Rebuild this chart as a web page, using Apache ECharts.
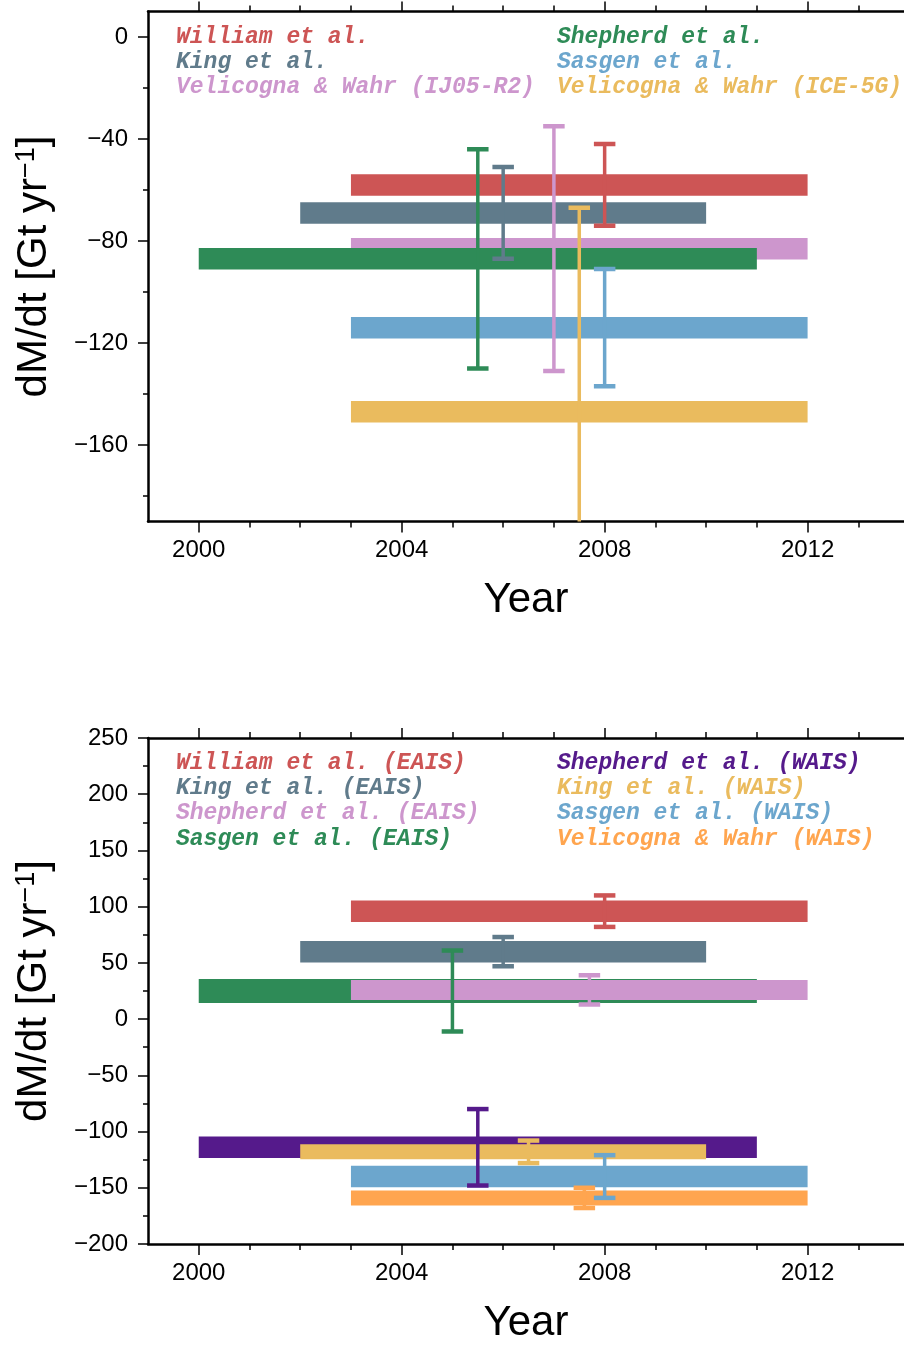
<!DOCTYPE html>
<html>
<head>
<meta charset="utf-8">
<script src="https://cdn.jsdelivr.net/npm/echarts@6/dist/echarts.min.js"></script>
<style>
  html, body { margin: 0; padding: 0; background: #fff; }
  #chart { width: 904px; height: 1345px; }
</style>
</head>
<body>
<div id="chart"></div>
<script>
// ---- Upper panel: whole ice-sheet mass-change estimates ----
const topNames = ['William et al.', 'King et al.', 'Velicogna & Wahr (IJ05-R2)',
                  'Shepherd et al.', 'Sasgen et al.', 'Velicogna & Wahr (ICE-5G)'];
const topStart = [2003, 2002, 2003, 2000, 2003, 2003];
const topEnd   = [2012, 2010, 2012, 2011, 2012, 2012];
const topRate  = [-58, -69, -83, -87, -114, -147];
const topErrYear = [2008, 2006, 2007, 2005.5, 2008, 2007.5];
const topErr   = [16, 18, 48, 43, 23, 80];

// ---- Lower panel: East / West Antarctic estimates ----
const bottomNames = ['William et al. (EAIS)', 'King et al. (EAIS)', 'Shepherd et al. (EAIS)', 'Sasgen et al. (EAIS)',
                     'Shepherd et al. (WAIS)', 'King et al. (WAIS)', 'Sasgen et al. (WAIS)', 'Velicogna & Wahr (WAIS)'];
const bottomStart = [2003, 2002, 2003, 2000, 2000, 2002, 2003, 2003];
const bottomEnd   = [2012, 2010, 2012, 2011, 2011, 2010, 2012, 2012];
const bottomRate  = [96, 60, 26, 25, -114, -118, -140, -159];
const bottomErrYear = [2008, 2006, 2007.7, 2005, 2005.5, 2006.5, 2008, 2007.6];
const bottomErr   = [14, 13, 13, 36, 34, 10, 19, 9];

// ---- Axis ticks ----
const yearTicks = [2000, 2004, 2008, 2012];
const yearMinorTicks = [2001, 2002, 2003, 2005, 2006, 2007, 2009, 2010, 2011, 2013];
const topRateTicks = [0, -40, -80, -120, -160];
const topRateMinorTicks = [-20, -60, -100, -140, -180];
const bottomRateTicks = [250, 200, 150, 100, 50, 0, -50, -100, -150, -200];
const bottomRateMinorTicks = [225, 175, 125, 75, 25, -25, -75, -125, -175];

// ---- Styling ----
const topColors = ['#CD5555', '#607B8B', '#CD96CD', '#2E8B57', '#6CA6CD', '#EABB5E'];
const bottomColors = ['#CD5555', '#607B8B', '#CD96CD', '#2E8B57', '#551A8B', '#EABB5E', '#6CA6CD', '#FFA54F'];
const topBarPx = [21.5, 21.5, 21.5, 21.5, 21.5, 21.5];
const bottomBarPx = [21.5, 21.5, 20, 24, 21.5, 15, 21.5, 15];
// Sasgen (EAIS) is painted beneath Shepherd (EAIS)
const bottomPaintOrder = [0, 1, 3, 2, 4, 5, 6, 7];

const SANS = '"Liberation Sans", Arial, Helvetica, sans-serif';
const MONO = '"Liberation Mono", "Courier New", monospace';
const minus = v => (v < 0 ? '\u2212' + Math.abs(v) : String(v));
const plain = v => String(v);

function barRenderer(colors, thickness) {
  return function (params, api) {
    const i = api.value(3);
    const a = api.coord([api.value(0), api.value(2)]);
    const b = api.coord([api.value(1), api.value(2)]);
    const h = thickness[i];
    return {
      type: 'rect',
      shape: { x: a[0], y: a[1] - h / 2, width: b[0] - a[0], height: h },
      style: { fill: colors[i] }
    };
  };
}

function errRenderer(colors) {
  return function (params, api) {
    const i = api.value(3);
    const yr = api.value(0), v = api.value(1), e = api.value(2);
    const top = api.coord([yr, v + e]);
    const bot = api.coord([yr, v - e]);
    const x = top[0];
    const capW = 21.5, capH = 4.5, lw = 3.5;
    const c = colors[i];
    return {
      type: 'group',
      children: [
        { type: 'rect', shape: { x: x - lw / 2, y: top[1], width: lw, height: bot[1] - top[1] }, style: { fill: c } },
        { type: 'rect', shape: { x: x - capW / 2, y: top[1] - capH / 2, width: capW, height: capH }, style: { fill: c } },
        { type: 'rect', shape: { x: x - capW / 2, y: bot[1] - capH / 2, width: capW, height: capH }, style: { fill: c } }
      ]
    };
  };
}

// The frame runs on to 2014, just past the right edge of the page
const YEAR_MIN = 1999, YEAR_MAX = 2013.9;

function xAxesFor(grid) {
  const tickStyle = { color: '#000', width: 1.5 };
  const hiddenLine = { show: false, onZero: false };
  const base = {
    type: 'value', gridIndex: grid, min: YEAR_MIN, max: YEAR_MAX,
    splitLine: { show: false }, axisLabel: { show: false }, axisLine: hiddenLine
  };
  const frameLine = { show: true, onZero: false, lineStyle: { color: '#000', width: 2.5 } };
  return [
    Object.assign({}, base, {
      position: 'bottom', axisLine: frameLine,
      axisTick: { show: true, customValues: yearTicks, length: 11, lineStyle: tickStyle },
      axisLabel: { show: true, customValues: yearTicks, formatter: plain, color: '#000', fontFamily: SANS, fontSize: 24, margin: 17 },
      name: 'Year', nameLocation: 'middle', nameGap: 58,
      nameTextStyle: { color: '#000', fontFamily: SANS, fontSize: 42 }
    }),
    Object.assign({}, base, {
      position: 'bottom',
      axisTick: { show: true, customValues: yearMinorTicks, length: 6, lineStyle: tickStyle }
    }),
    Object.assign({}, base, {
      position: 'top', axisLine: frameLine,
      axisTick: { show: true, customValues: yearTicks, length: 10, lineStyle: tickStyle }
    }),
    Object.assign({}, base, {
      position: 'top',
      axisTick: { show: true, customValues: yearMinorTicks, length: 6, lineStyle: tickStyle }
    })
  ];
}

function yAxesFor(grid, min, max, ticks, minorTicks) {
  const tickStyle = { color: '#000', width: 1.5 };
  return [
    {
      type: 'value', gridIndex: grid, min: min, max: max, position: 'left',
      splitLine: { show: false },
      axisLine: { show: true, onZero: false, lineStyle: { color: '#000', width: 2.5 } },
      axisTick: { show: true, customValues: ticks, length: 10, lineStyle: tickStyle },
      axisLabel: { show: true, customValues: ticks, formatter: minus, color: '#000', fontFamily: SANS, fontSize: 24, margin: 20 },
      name: 'dM/dt [Gt yr{sup|\u22121}]', nameLocation: 'middle', nameRotate: 90, nameGap: 92,
      nameTextStyle: {
        color: '#000', fontFamily: SANS, fontSize: 42,
        rich: { sup: { fontFamily: SANS, fontSize: 27, color: '#000', verticalAlign: 'top', padding: [0, 0, 16, 0] } }
      }
    },
    {
      type: 'value', gridIndex: grid, min: min, max: max, position: 'left',
      splitLine: { show: false }, axisLine: { show: false, onZero: false }, axisLabel: { show: false },
      axisTick: { show: true, customValues: minorTicks, length: 5, lineStyle: tickStyle }
    }
  ];
}

const topBarData = topNames.map((n, i) => [topStart[i], topEnd[i], topRate[i], i]);
const topErrData = topNames.map((n, i) => [topErrYear[i], topRate[i], topErr[i], i]);
const bottomBarData = bottomPaintOrder.map(i => [bottomStart[i], bottomEnd[i], bottomRate[i], i]);
const bottomErrData = bottomNames.map((n, i) => [bottomErrYear[i], bottomRate[i], bottomErr[i], i]);

// Text-only keys in two columns
function legendTexts(names, colors, perColumn, firstRowY) {
  const colX = [176, 557];
  return names.map((n, i) => ({
    type: 'text',
    x: colX[Math.floor(i / perColumn)],
    y: firstRowY + (i % perColumn) * 25.3,
    silent: true,
    style: {
      text: n, fill: colors[i], font: 'italic bold 23px ' + MONO,
      verticalAlign: 'middle', align: 'left'
    }
  }));
}

const chart = echarts.init(document.getElementById('chart'), null, { renderer: 'canvas' });
chart.setOption({
  animation: false,
  backgroundColor: '#fff',
  grid: [
    { left: 148, top: 11.5, right: 0, height: 510 },
    { left: 148, top: 738, right: 0, height: 507 }
  ],
  xAxis: xAxesFor(0).concat(xAxesFor(1)),
  yAxis: yAxesFor(0, -190, 10, topRateTicks, topRateMinorTicks)
    .concat(yAxesFor(1, -200, 250, bottomRateTicks, bottomRateMinorTicks)),
  series: [
    { type: 'custom', xAxisIndex: 0, yAxisIndex: 0, clip: true, silent: true, z: 2,
      encode: { x: [0, 1], y: 2 }, data: topBarData, renderItem: barRenderer(topColors, topBarPx) },
    { type: 'custom', xAxisIndex: 0, yAxisIndex: 0, clip: true, silent: true, z: 3,
      encode: { x: 0, y: 1 }, data: topErrData, renderItem: errRenderer(topColors) },
    { type: 'custom', xAxisIndex: 4, yAxisIndex: 2, clip: true, silent: true, z: 2,
      encode: { x: [0, 1], y: 2 }, data: bottomBarData, renderItem: barRenderer(bottomColors, bottomBarPx) },
    { type: 'custom', xAxisIndex: 4, yAxisIndex: 2, clip: true, silent: true, z: 3,
      encode: { x: 0, y: 1 }, data: bottomErrData, renderItem: errRenderer(bottomColors) }
  ],
  graphic: legendTexts(topNames, topColors, 3, 37).concat(legendTexts(bottomNames, bottomColors, 4, 763))
});
</script>
</body>
</html>
